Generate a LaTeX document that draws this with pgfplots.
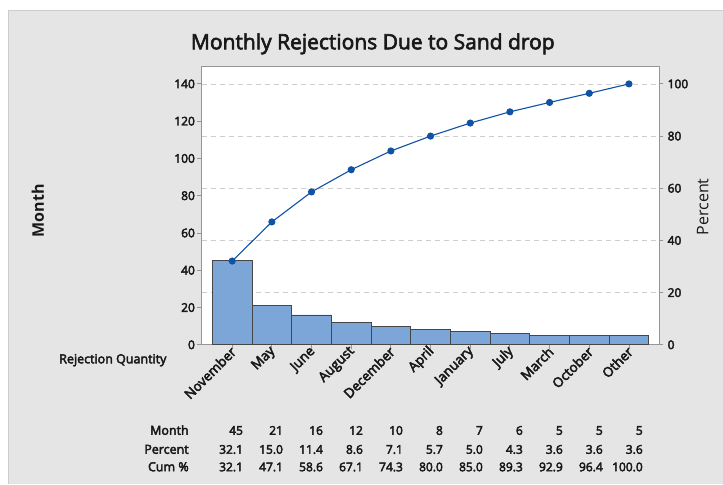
\documentclass[border=0pt]{standalone}
\usepackage{pgfplots}
\pgfplotsset{compat=1.18}
\usepackage{fontspec}
\setmainfont{Open Sans}
\newfontfamily\semifont[FakeBold=3.5]{Open Sans}
\newfontfamily\titlefont[FakeBold=3]{Open Sans}
\definecolor{bg}{RGB}{229,229,229}
\definecolor{barfill}{RGB}{124,166,216}
\definecolor{baredge}{RGB}{70,70,70}
\definecolor{linec}{RGB}{16,82,164}
\definecolor{framec}{RGB}{150,150,150}
\definecolor{gridc}{RGB}{205,205,205}
\definecolor{txt}{RGB}{25,25,25}
\newcommand{\tfont}{\semifont\fontsize{12bp}{14bp}\selectfont}
\newcommand{\rfont}{\semifont\fontsize{12.5bp}{14bp}\selectfont}
\newcommand{\xfont}{\semifont\fontsize{13.5bp}{15bp}\selectfont}
\begin{document}
\begin{tikzpicture}[x=1bp,y=1bp]
\fill[white] (0,0) rectangle (723,484);
\fill[bg] (8,0) rectangle (723,474);
\draw[black!20, line width=0.8bp] (8,0) -- (8,474) -- (723,474);
\pgfplotsset{pareto/.style={
  scale only axis, width=457.6bp, height=278bp,
  at={(201.7bp,139bp)}, anchor=south west,
  xmin=-0.771, xmax=10.756,
  axis line style={framec, line width=0.9bp},
  tick style={framec, line width=0.9bp},
  major tick length=4.5bp, tick align=outside,
  ticklabel style={font=\tfont, text=txt},
  /pgf/number format/assume math mode=true,
}}
% percent axis: frame, background, grid, right ticks
\begin{axis}[pareto,
  ymin=0, ymax=106.5,
  axis background/.style={fill=white},
  xtick=\empty,
  ytick={0,20,40,60,80,100},
  ytick pos=right, yticklabel pos=right,
  ymajorgrids,
  grid style={gridc, dash pattern=on 5bp off 4bp, line width=0.8bp},
  yticklabel style={inner sep=1bp, xshift=3bp},
]
\addplot[draw=none] coordinates {(0,0)};
\end{axis}
% count axis: bars, left ticks, x ticks
\begin{axis}[pareto,
  ymin=0, ymax=149.1,
  axis x line*=bottom, axis y line*=left,
  ytick={0,20,40,60,80,100,120,140},
  yticklabel style={inner sep=1bp, xshift=-1bp},
  xtick={0,...,10},
  xticklabels={November,May,June,August,December,April,January,July,March,October,Other},
  xticklabel style={font=\xfont, rotate=45, anchor=east, inner sep=1bp, yshift=-1bp, xshift=2bp},
]
\addplot[ybar, bar width=1, fill=barfill, draw=baredge, line width=0.9bp]
  coordinates {(0,45) (1,21) (2,16) (3,12) (4,10) (5,8) (6,7) (7,6) (8,5) (9,5) (10,5)};
\end{axis}
% cumulative percent line
\begin{axis}[pareto, ymin=0, ymax=106.5, hide axis]
\addplot[linec, line width=1.1bp, mark=*, mark size=3bp, mark options={fill=linec, draw=linec}]
  coordinates {(0,32.1) (1,47.1) (2,58.6) (3,67.1) (4,74.3) (5,80.0) (6,85.0) (7,89.3) (8,92.9) (9,96.4) (10,100.0)};
\end{axis}
% titles and labels
\node[anchor=base, font=\titlefont\fontsize{21bp}{24bp}\selectfont, text=txt] at (373,434.7) {Monthly Rejections Due to Sand drop};
\node[rotate=90, font=\fontsize{16bp}{18bp}\selectfont\bfseries, text=txt] at (38,273) {Month};
\node[rotate=90, font=\fontsize{16bp}{18bp}\selectfont, text=txt] at (703,277) {Percent};
\node[anchor=base east, font=\rfont, text=txt, inner sep=0pt] at (166.7,120.5) {Rejection Quantity};
% table below
\node[anchor=base east, font=\rfont, text=txt, inner sep=0pt] at (189,49) {Month};
\node[anchor=base east, font=\rfont, text=txt, inner sep=0pt] at (189,30) {Percent};
\node[anchor=base east, font=\rfont, text=txt, inner sep=0pt] at (189,12.5) {Cum \%};
\foreach \v [count=\i from 0] in {45,21,16,12,10,8,7,6,5,5,5}
  \node[anchor=base east, font=\tfont, text=txt, inner sep=0pt] at (243.3+40*\i,49) {\v};
\foreach \v [count=\i from 0] in {32.1,15.0,11.4,8.6,7.1,5.7,5.0,4.3,3.6,3.6,3.6}
  \node[anchor=base east, font=\tfont, text=txt, inner sep=0pt] at (243.3+40*\i,30) {\v};
\foreach \v [count=\i from 0] in {32.1,47.1,58.6,67.1,74.3,80.0,85.0,89.3,92.9,96.4,100.0}
  \node[anchor=base east, font=\tfont, text=txt, inner sep=0pt] at (243.3+40*\i,12.5) {\v};
\end{tikzpicture}
\end{document}
